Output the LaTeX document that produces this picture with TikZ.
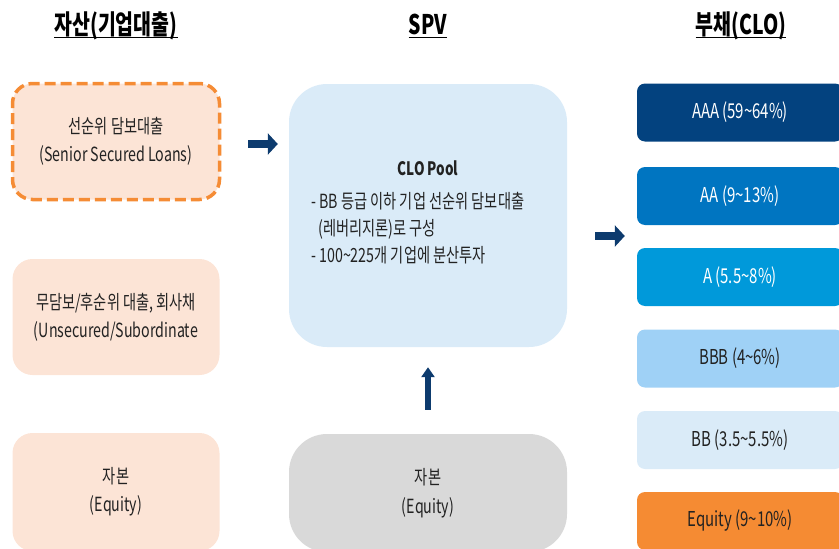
\documentclass[tikz,border=0pt]{standalone}
\usepackage{fontspec}
\setmainfont{Noto Sans CJK KR}[FakeStretch=0.73]
\newfontfamily\titlefont{Noto Sans CJK KR}[FakeStretch=0.72]
\usetikzlibrary{arrows.meta}
\definecolor{peach}{HTML}{FCE4D6}
\definecolor{dashorange}{HTML}{F58C35}
\definecolor{poolblue}{HTML}{DAEBF8}
\definecolor{graybox}{HTML}{D9D9D9}
\definecolor{navy}{HTML}{0D3B6E}
\definecolor{cAAA}{HTML}{03427F}
\definecolor{cAA}{HTML}{0075C1}
\definecolor{cA}{HTML}{0099DA}
\definecolor{cBBB}{HTML}{9FD1F6}
\definecolor{cBB}{HTML}{DAEBF8}
\definecolor{cEq}{HTML}{F58B33}
\definecolor{txt}{HTML}{222222}
\tikzset{
  title/.style={font=\titlefont\fontsize{27}{30}\selectfont\bfseries, text=black, inner sep=0pt, anchor=base},
  leftbox/.style={draw=none, fill=peach, rounded corners=20pt, minimum width=207pt, align=center, text=txt, font=\fontsize{19.5}{28}\selectfont, inner sep=0pt},
  midbox/.style={draw=none, rounded corners=38pt, minimum width=278pt, align=center, text=txt, font=\fontsize{19.5}{28.5}\selectfont, inner sep=0pt},
  tranche/.style={draw=none, rounded corners=8pt, minimum width=206pt, minimum height=58pt, text=txt, font=\fontsize{20.5}{22}\selectfont, inner sep=0pt},
  pooltext/.style={text=txt, font=\fontsize{19.5}{22}\selectfont, inner sep=0pt, anchor=base west},
  blockarrow/.style={draw=navy, line width=7.5pt, -{Triangle[length=10pt,width=21pt]}},
}
\begin{document}
\begin{tikzpicture}[x=1pt,y=-1pt]
\useasboundingbox (0,0) rectangle (839,549);
\clip (0,0) rectangle (839,549);
% titles
\node[title] (t1) at (116,34) {자산(기업대출)};
\node[title] (t2) at (428,34) {SPV};
\node[title] (t3) at (741,34) {부채(CLO)};
\foreach \t in {t1,t2,t3}{
  \draw[line width=1.8pt] ([yshift=-3.5pt]\t.base west) -- ([yshift=-3.5pt]\t.base east);
}
% left column
\node[leftbox, minimum height=116pt, draw=dashorange, line width=3.5pt, dash pattern=on 11pt off 5pt] (senior) at (116,141.5) {선순위 담보대출\\(Senior Secured Loans)};
\node[leftbox, minimum height=116pt] (unsec) at (116,317) {무담보/후순위 대출, 회사채\\(Unsecured/Subordinate};
\node[leftbox, minimum height=118pt] (leq) at (116,492) {자본\\(Equity)};
% middle column
\node[midbox, fill=poolblue, minimum height=263pt] (pool) at (428,215.5) {};
\node[text=txt, font=\fontsize{18.5}{20}\selectfont\bfseries, inner sep=0pt, anchor=base] (pooltitle) at (428,175) {CLO Pool};
\node[pooltext] (pl1) at (311,208.5) {- BB 등급 이하 기업 선순위 담보대출};
\node[pooltext] (pl2) at (318,235.5) {(레버리지론)로 구성};
\node[pooltext] (pl3) at (311,262) {- 100\textasciitilde 225개 기업에 분산투자};
\node[midbox, fill=graybox, minimum height=118pt] (meq) at (428,493) {자본\\(Equity)};
% tranches
\node[tranche, fill=cAAA, text=white] (aaa) at (740,112.5) {AAA (59\textasciitilde 64\%)};
\node[tranche, fill=cAA, text=white] (aa) at (740,196) {AA (9\textasciitilde 13\%)};
\node[tranche, fill=cA, text=white] (a) at (740,277) {A (5.5\textasciitilde 8\%)};
\node[tranche, fill=cBBB] (bbb) at (740,358.5) {BBB (4\textasciitilde 6\%)};
\node[tranche, fill=cBB] (bb) at (740,440) {BB (3.5\textasciitilde 5.5\%)};
\node[tranche, fill=cEq] (req) at (740,521) {Equity (9\textasciitilde 10\%)};
% arrows
\coordinate (a1s) at ([xshift=27pt]senior.east |- 0,144);
\coordinate (a1e) at ([xshift=-11pt]pool.west |- 0,144);
\draw[blockarrow] (a1s) -- (a1e);
\coordinate (a2s) at ([xshift=28pt]pool.east |- 0,236);
\coordinate (a2e) at ([xshift=-12pt]aa.west |- 0,236);
\draw[blockarrow] (a2s) -- (a2e);
\coordinate (a3s) at ([yshift=24pt]meq.north);
\coordinate (a3e) at ([yshift=-20pt]pool.south);
\draw[draw=navy, line width=5.5pt, -{Triangle[length=10pt,width=13pt]}] (a3s) -- (a3e);
\end{tikzpicture}
\end{document}
